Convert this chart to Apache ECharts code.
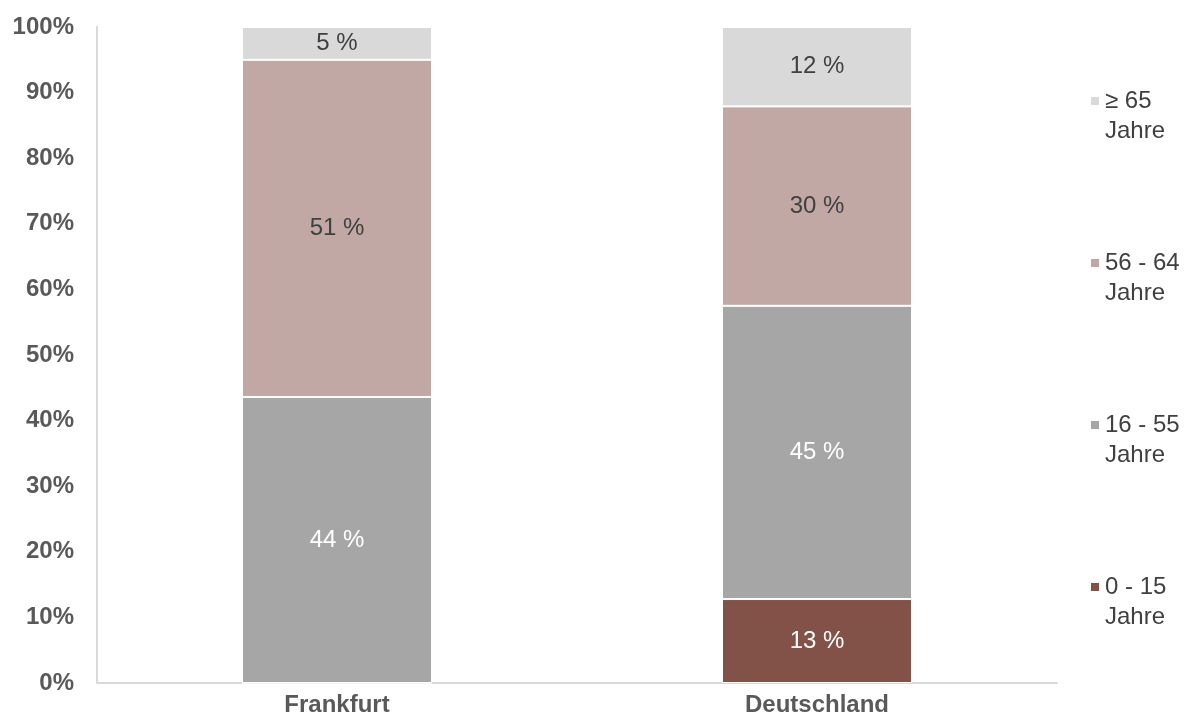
<!DOCTYPE html>
<html>
<head>
<meta charset="utf-8">
<script src="https://cdn.jsdelivr.net/npm/echarts@6/dist/echarts.min.js"></script>
<style>
  html, body { margin: 0; padding: 0; background: #fff; }
  #chart { width: 1189px; height: 724px; }
</style>
</head>
<body>
<div id="chart"></div>
<script>
// data
const categories = ['Frankfurt', 'Deutschland']
const seriesNames = ['0 - 15\nJahre', '16 - 55\nJahre', '56 - 64\nJahre', '≥ 65\nJahre']
const age0to15 = [0, 12.8]
const age16to55 = [43.6, 44.7]
const age56to64 = [51.4, 30.4]
const age65plus = [5.0, 12.1]
const yTicks = [0, 10, 20, 30, 40, 50, 60, 70, 80, 90, 100]

const colors = ['#825249', '#a6a6a6', '#c1a8a4', '#d9d9d9']
const labelColors = ['#ffffff', '#ffffff', '#404040', '#404040']
const values = [age0to15, age16to55, age56to64, age65plus]

const font = '"Liberation Sans", Arial, sans-serif'

const chart = echarts.init(document.getElementById('chart'))

const series = seriesNames.map(function (name, i) {
  return {
    name: name,
    type: 'bar',
    stack: 'total',
    barWidth: 190,
    data: values[i],
    itemStyle: { color: colors[i], borderColor: '#fff', borderWidth: 1 },
    label: {
      show: true,
      position: 'inside',
      color: labelColors[i],
      fontFamily: font,
      fontSize: 24,
      formatter: function (p) {
        return p.value > 0 ? Math.round(p.value) + ' %' : ''
      }
    }
  }
})

chart.setOption({
  animation: false,
  grid: { left: 97, right: 132, top: 27, bottom: 41 },
  legend: {
    orient: 'vertical',
    left: 1089,
    top: 56,
    padding: 0,
    itemWidth: 10,
    itemHeight: 10,
    itemGap: 72,
    icon: 'rect',
    data: seriesNames.slice().reverse(),
    // blank first line so the icon sits next to the first text line
    formatter: function (name) { return '\n' + name },
    textStyle: {
      color: '#404040',
      fontFamily: font,
      fontSize: 24,
      lineHeight: 30
    }
  },
  xAxis: {
    type: 'category',
    data: categories,
    axisLine: { lineStyle: { color: '#d9d9d9', width: 2 } },
    axisTick: { show: false },
    axisLabel: {
      color: '#595959',
      fontFamily: font,
      fontSize: 24,
      fontWeight: 'bold',
      margin: 10
    }
  },
  yAxis: {
    type: 'value',
    min: yTicks[0],
    max: yTicks[yTicks.length - 1],
    interval: 10,
    splitLine: { show: false },
    axisLine: { show: true, lineStyle: { color: '#d9d9d9', width: 2 } },
    axisTick: { show: false },
    axisLabel: {
      color: '#595959',
      fontFamily: font,
      fontSize: 24,
      fontWeight: 'bold',
      margin: 23,
      formatter: '{value}%'
    }
  },
  series: series
})
</script>
</body>
</html>
